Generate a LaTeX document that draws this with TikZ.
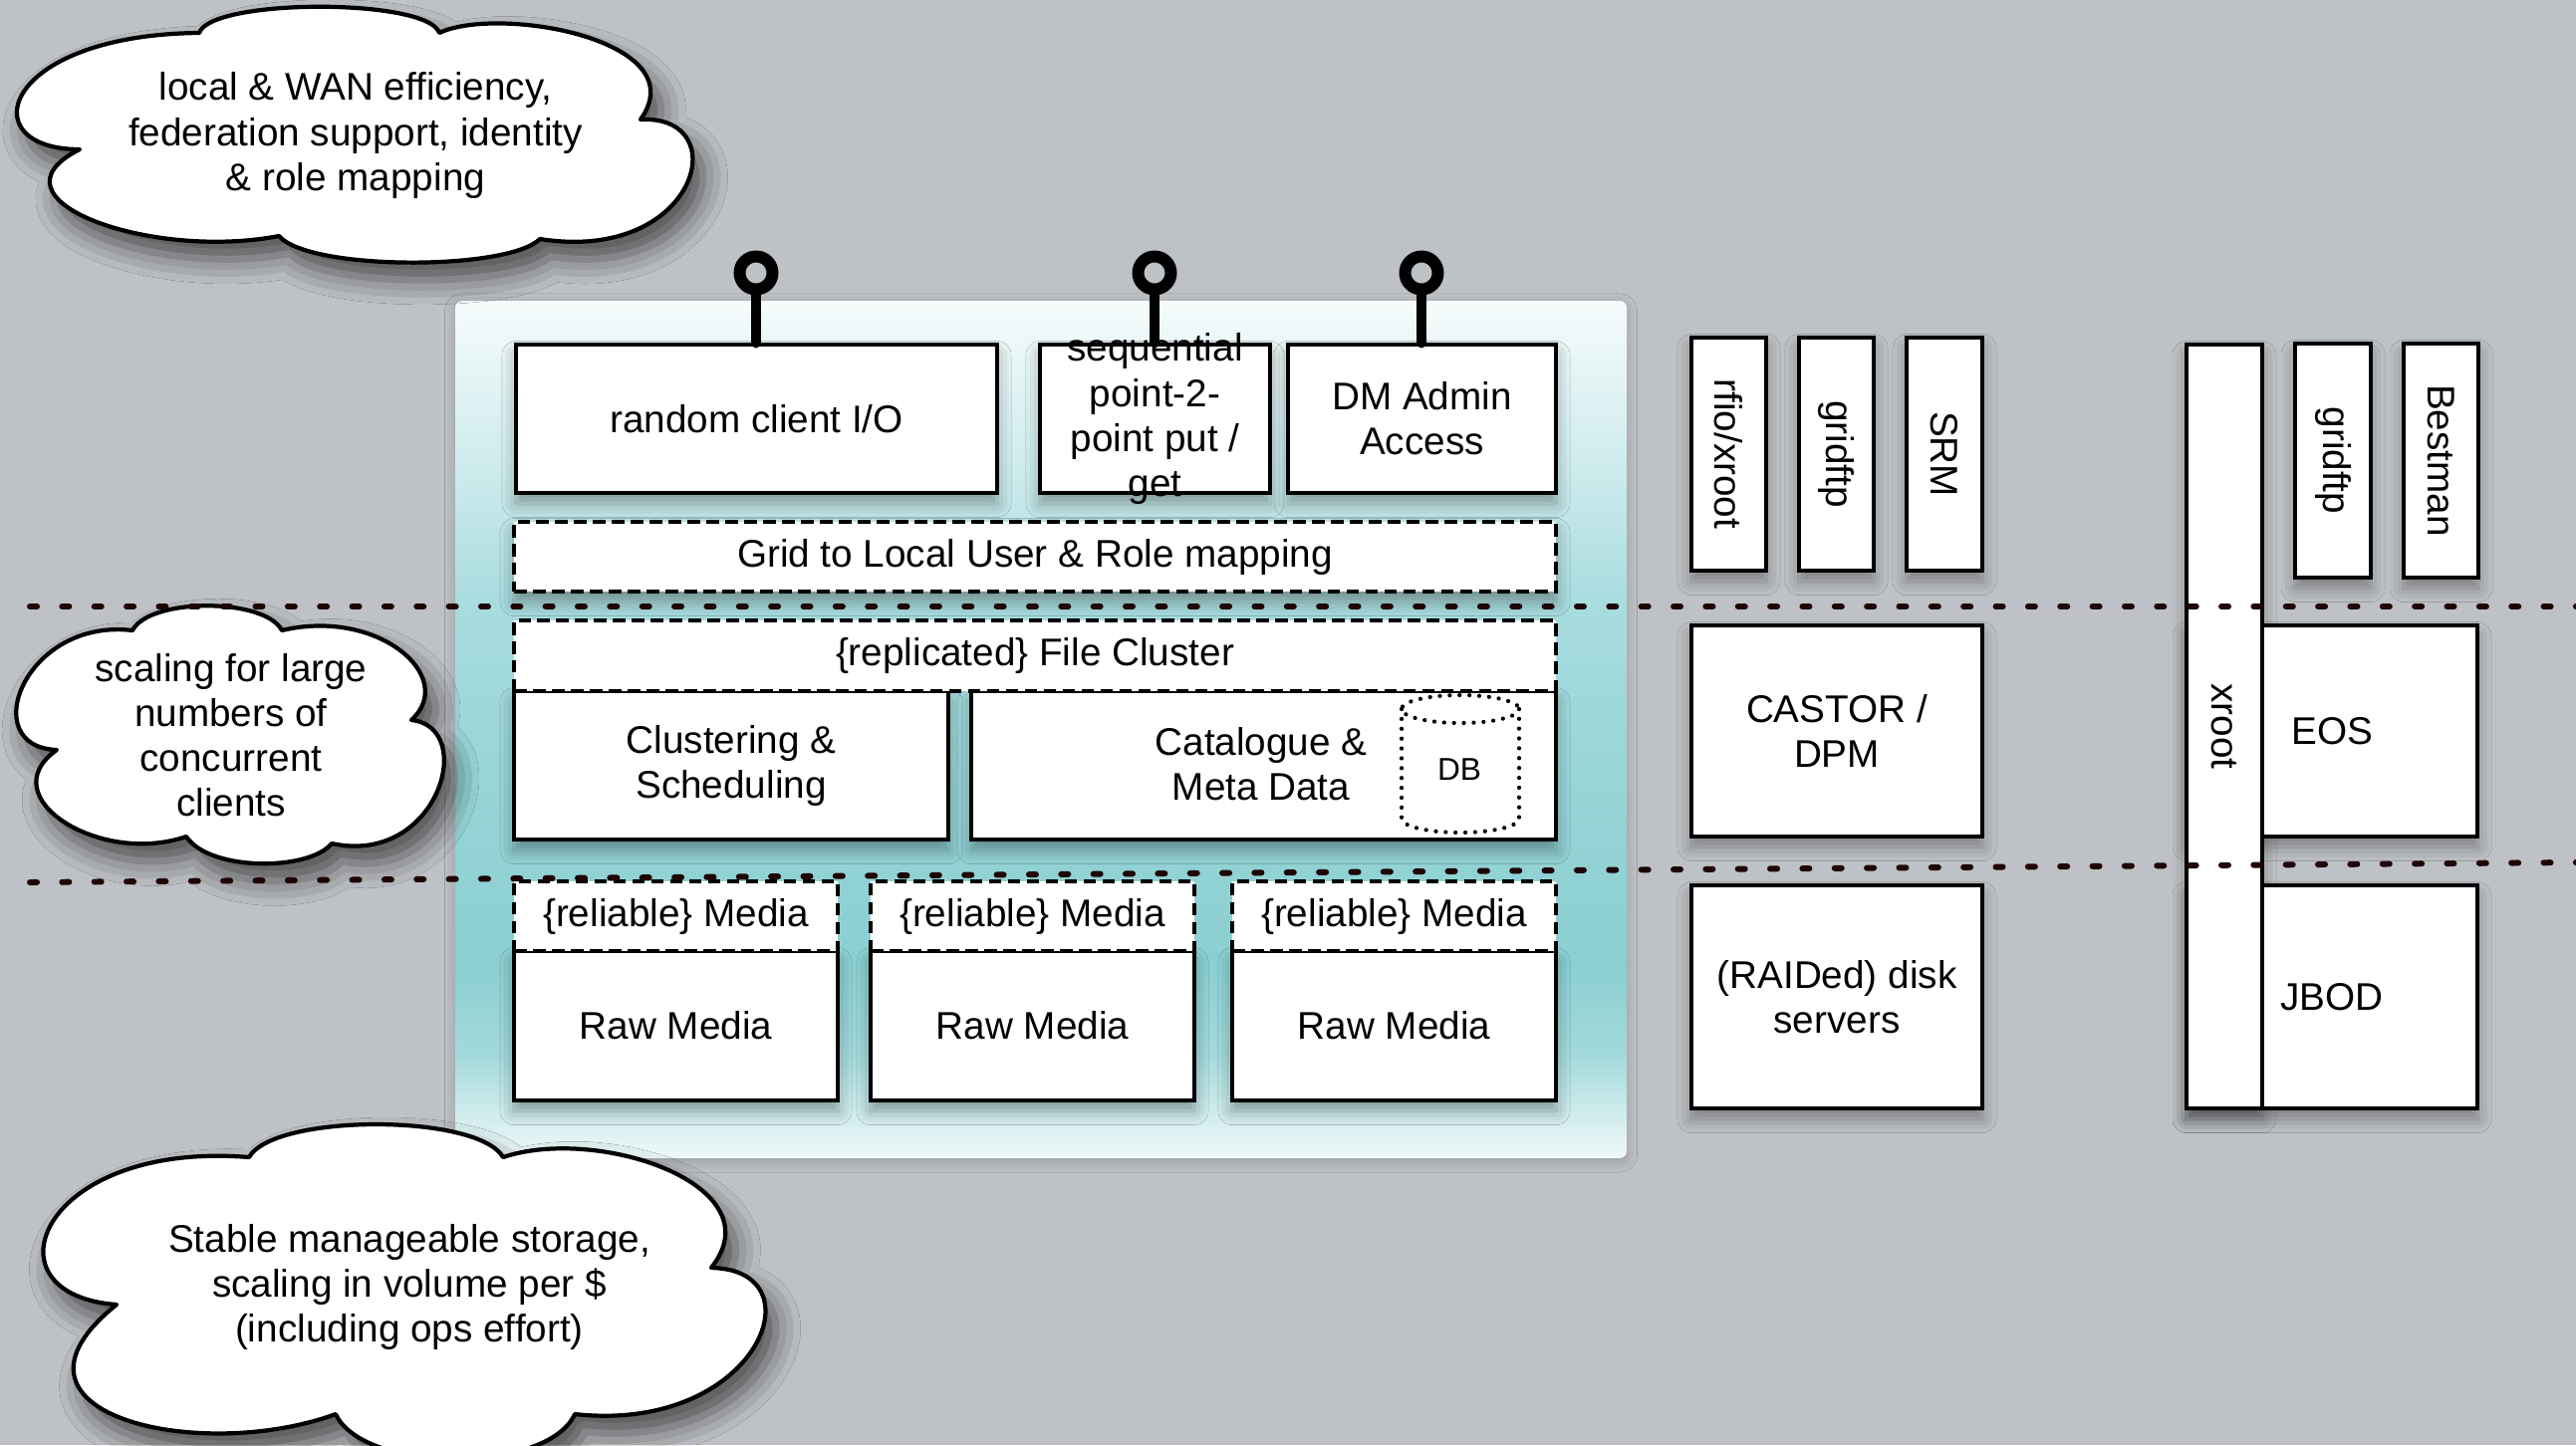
\documentclass[tikz,border=0pt]{standalone}
\usepackage{fontspec}
\setmainfont{Liberation Sans}
\usetikzlibrary{shadows.blur}
\newdimen\pu \pu=0.01cm
\definecolor{bggray}{HTML}{BEC1C5}
\definecolor{dotc}{HTML}{1E0404}
\definecolor{pA}{HTML}{EEF8F8}
\definecolor{pB}{HTML}{E0F2F3}
\definecolor{pC}{HTML}{A2D9DB}
\definecolor{pD}{HTML}{8BCFD1}
\definecolor{pE}{HTML}{96D4D6}
\definecolor{pF}{HTML}{A8DCDF}
\definecolor{pG}{HTML}{D0ECEE}
\definecolor{pH}{HTML}{F6FBFB}
\pgfdeclareverticalshading{panelshade}{100bp}{color(0bp)=(pA); color(25bp)=(pA); color(26.3bp)=(pB); color(31.2bp)=(pC); color(36.2bp)=(pD); color(46bp)=(pE); color(57.2bp)=(pF); color(65.8bp)=(pG); color(75bp)=(pH); color(100bp)=(pH)}
\newcommand\lblfont{\fontsize{11}{12.8}\selectfont}
\newcommand\mkbox[7]{\node[#6, minimum width={((#4)-(#2))*\pu}, minimum height={((#5)-(#3))*\pu}] (#1) at ({((#2)+(#4))/2},{((#3)+(#5))/2}) {#7};}
\tikzset{
  shad/.style={blur shadow={shadow xshift=0pt, shadow yshift=-3pt, shadow blur radius=4pt, shadow opacity=35}},
  box/.style={draw=black, line width=1.1pt, fill=white, inner sep=1pt, align=center, font=\lblfont},
  sbox/.style={box, shad},
  dbox/.style={box, dash pattern=on 3.6pt off 1.8pt},
  vtext/.style={rotate=-90, font=\lblfont, inner sep=0pt},
  ctext/.style={font=\lblfont, align=center, inner sep=0pt},
  cloudline/.style={draw=black, line width=1.2pt, fill=white, line join=round, blur shadow={shadow xshift=3pt, shadow yshift=-5pt, shadow blur radius=7pt, shadow opacity=60}},
  pinring/.style={circle, draw=black, line width=3.4pt, minimum size=33\pu, inner sep=0pt},
  stem/.style={line width=3.1pt, line cap=round},
  dotline/.style={draw=dotc, line width=1.7pt, line cap=round, dash pattern=on 2pt off 7.2pt},
  dbdots/.style={draw=black, line width=1.2pt, line cap=round, dash pattern=on 0.01pt off 2.8pt},
}
\begin{document}
\begin{tikzpicture}[x=0.01cm, y=-0.01cm]
\useasboundingbox (0,0) rectangle (2586,1451);
\fill[bggray] (0,0) rectangle (2586,1451);
% panel
\node[minimum width=1176\pu, minimum height=861\pu, shading=panelshade, rounded corners=2pt, inner sep=0pt,
  blur shadow={shadow xshift=0pt, shadow yshift=-1pt, shadow blur radius=3pt, shadow opacity=20}] (panel) at (1045,732.5) {};
% top row
\mkbox{rc}{518}{346}{1001}{495}{sbox}{random client I/O}
\mkbox{seq}{1044}{346}{1275}{495}{sbox}{}
\node[ctext] (seqt) at (seq.center) {sequential\\point-2-\\point put /\\get};
\mkbox{dm}{1293}{346}{1562}{495}{sbox}{DM Admin\\Access}
\mkbox{grid}{516}{524}{1562}{594}{dbox,shad}{Grid to Local User \& Role mapping}
% middle
\mkbox{clus}{516}{694}{952}{843}{sbox}{Clustering \&\\Scheduling}
\mkbox{cat}{975}{694}{1562}{843}{sbox}{}
\node[ctext] (catt) at (1266,767) {Catalogue \&\\Meta Data};
\mkbox{repl}{516}{623}{1562}{694}{dbox}{\{replicated\} File Cluster}
% DB cylinder
\draw[dbdots] (1466,712) ellipse [x radius=59, y radius=14];
\draw[dbdots] (1407,712) -- (1407,822) arc[start angle=180, end angle=0, x radius=59, y radius=14] -- (1525,712);
\node[font=\fontsize{9}{10}\selectfont, inner sep=0pt] (db) at (1465,773) {DB};
% bottom row
\mkbox{raw1}{516}{955}{841}{1105}{sbox}{Raw Media}
\mkbox{raw2}{874}{955}{1199}{1105}{sbox}{Raw Media}
\mkbox{raw3}{1237}{955}{1562}{1105}{sbox}{Raw Media}
\mkbox{rel1}{516}{885}{841}{955}{dbox}{\{reliable\} Media}
\mkbox{rel2}{874}{885}{1199}{955}{dbox}{\{reliable\} Media}
\mkbox{rel3}{1237}{885}{1562}{955}{dbox}{\{reliable\} Media}
% pins
\node[pinring] (pin1) at (759,274) {};
\node[pinring] (pin2) at (1159,274) {};
\node[pinring] (pin3) at (1427,274) {};
\draw[stem] (pin1.south) -- (pin1.south |- rc.north);
\draw[stem] (pin2.south) -- (pin2.south |- seq.north);
\draw[stem] (pin3.south) -- (pin3.south |- dm.north);
% right group 1
\mkbox{rfio}{1698}{339}{1773}{573}{sbox}{}
\node[vtext] (rfiot) at (rfio.center) {rfio/xroot};
\mkbox{gftpa}{1806}{339}{1881}{573}{sbox}{}
\node[vtext] (gftpat) at (gftpa.center) {gridftp};
\mkbox{srm}{1914}{339}{1990}{573}{sbox}{}
\node[vtext] (srmt) at (srm.center) {SRM};
\mkbox{castor}{1698}{628}{1990}{840}{sbox}{CASTOR /\\DPM}
\mkbox{raid}{1698}{889}{1990}{1113}{sbox}{(RAIDed) disk\\servers}
% right group 2
\mkbox{xrootsh}{2195}{346}{2271}{1113}{shad}{}
\mkbox{gftpb}{2304}{345}{2380}{580}{sbox}{}
\node[vtext] (gftpbt) at (gftpb.center) {gridftp};
\mkbox{best}{2413}{345}{2488}{580}{sbox}{}
\node[vtext] (bestt) at (best.center) {Bestman};
\mkbox{eos}{2195}{628}{2487}{840}{sbox}{EOS}
\mkbox{jbod}{2195}{889}{2487}{1113}{sbox}{JBOD}
\mkbox{xroot}{2195}{346}{2271}{1113}{box}{}
\node[vtext] (xroott) at (xroot.center) {xroot};
% clouds
\draw[cloudline] (80,150) .. controls (-30,150) and (0,35) .. (200,33)
  .. controls (212,-2) and (430,-2) .. (441,33)
  .. controls (500,5) and (700,40) .. (643,120)
  .. controls (740,115) and (700,265) .. (542,240)
  .. controls (510,272) and (310,272) .. (280,237)
  .. controls (150,262) and (-20,200) .. cycle;
\node[ctext] (c1t) at (357,136) {local \& WAN efficiency,\\federation support, identity\\\& role mapping};
\draw[cloudline] (57,753) .. controls (-25,750) and (25,620) .. (133,633)
  .. controls (150,600) and (266,600) .. (283,633)
  .. controls (380,610) and (460,680) .. (413,723)
  .. controls (480,730) and (440,870) .. (333,847)
  .. controls (310,875) and (210,875) .. (187,840)
  .. controls (100,870) and (-10,800) .. cycle;
\node[ctext] (c2t) at (232,738) {scaling for large\\numbers of\\concurrent\\clients};
\draw[cloudline] (117,1310) .. controls (-20,1300) and (40,1145) .. (250,1162)
  .. controls (275,1118) and (480,1118) .. (505,1162)
  .. controls (600,1130) and (780,1190) .. (714,1273)
  .. controls (825,1275) and (760,1440) .. (577,1420)
  .. controls (550,1480) and (365,1480) .. (337,1420)
  .. controls (200,1470) and (-20,1420) .. cycle;
\node[ctext] (c3t) at (411,1292) {Stable manageable storage,\\scaling in volume per \$\\(including ops effort)};
% dotted layer lines
\coordinate (d1a) at (30,609);
\coordinate (d1b) at (2586,609);
\coordinate (d2a) at (30,886);
\coordinate (d2b) at (2586,866);
\draw[dotline] (d1a) -- (d1b);
\draw[dotline] (d2a) -- (d2b);
\end{tikzpicture}
\end{document}
